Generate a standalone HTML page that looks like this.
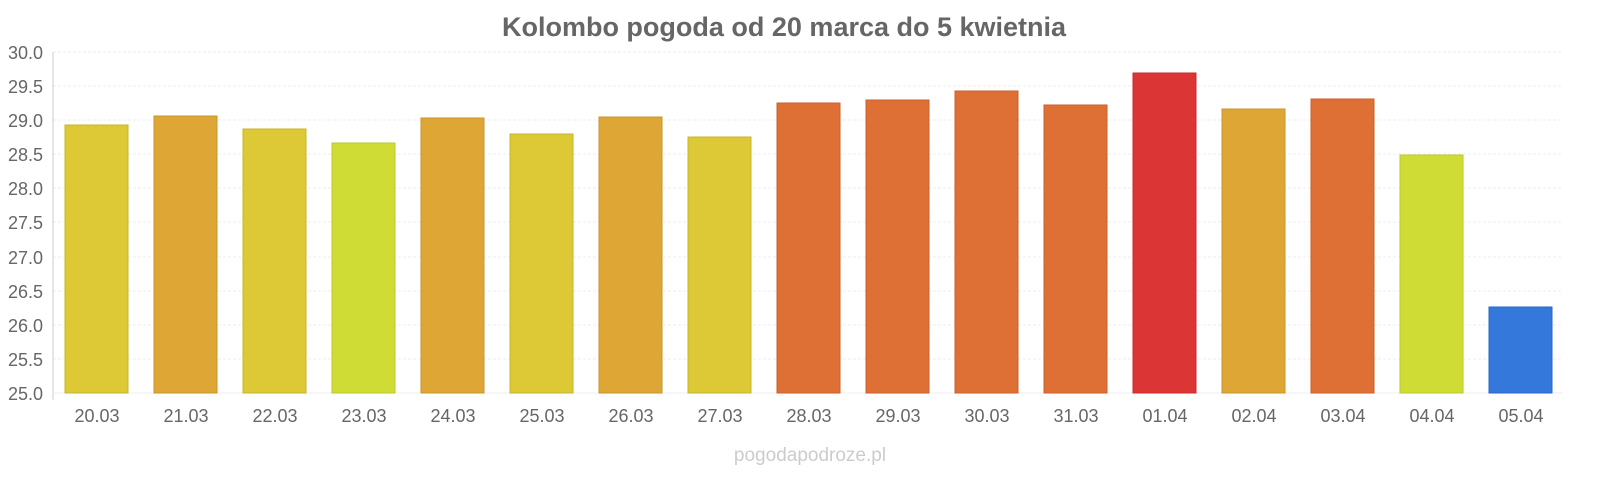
<!DOCTYPE html>
<html><head><meta charset="utf-8"><style>body{margin:0;background:#fff}</style></head><body>
<svg width="1600" height="480" xmlns="http://www.w3.org/2000/svg" font-family="Liberation Sans, sans-serif">
<rect width="1600" height="480" fill="#fff"/>
<text x="784" y="36" text-anchor="middle" font-size="27" font-weight="bold" fill="#666">Kolombo pogoda od 20 marca do 5 kwietnia</text>
<g stroke="#eee" stroke-dasharray="3,2">
<line x1="53" x2="1563" y1="52" y2="52"/><line x1="53" x2="1563" y1="86" y2="86"/><line x1="53" x2="1563" y1="120" y2="120"/><line x1="53" x2="1563" y1="154" y2="154"/><line x1="53" x2="1563" y1="188" y2="188"/><line x1="53" x2="1563" y1="222" y2="222"/><line x1="53" x2="1563" y1="257" y2="257"/><line x1="53" x2="1563" y1="291" y2="291"/><line x1="53" x2="1563" y1="325" y2="325"/><line x1="53" x2="1563" y1="359" y2="359"/>
</g>
<line x1="53" x2="53" y1="52" y2="400" stroke="#ccc"/>
<line x1="53" x2="1563" y1="393" y2="393" stroke="#eee"/>
<g font-size="18" fill="#666" text-anchor="end">
<text x="43" y="59">30.0</text><text x="43" y="93">29.5</text><text x="43" y="127">29.0</text><text x="43" y="161">28.5</text><text x="43" y="195">28.0</text><text x="43" y="229">27.5</text><text x="43" y="264">27.0</text><text x="43" y="298">26.5</text><text x="43" y="332">26.0</text><text x="43" y="366">25.5</text><text x="43" y="400">25.0</text>
</g>
<g stroke-width="1">
<rect x="65" y="125" width="63" height="268" fill="#dcc935" stroke="#c9b52a"/>
<rect x="154" y="116" width="63" height="277" fill="#dea635" stroke="#c9942a"/>
<rect x="243" y="129" width="63" height="264" fill="#dcc935" stroke="#c9b52a"/>
<rect x="332" y="143" width="63" height="250" fill="#cfdc35" stroke="#bcc92a"/>
<rect x="421" y="118" width="63" height="275" fill="#dea635" stroke="#c9942a"/>
<rect x="510" y="134" width="63" height="259" fill="#dcc935" stroke="#c9b52a"/>
<rect x="599" y="117" width="63" height="276" fill="#dea635" stroke="#c9942a"/>
<rect x="688" y="137" width="63" height="256" fill="#dcc935" stroke="#c9b52a"/>
<rect x="777" y="103" width="63" height="290" fill="#de7035" stroke="#c95f2a"/>
<rect x="866" y="100" width="63" height="293" fill="#de7035" stroke="#c95f2a"/>
<rect x="955" y="91" width="63" height="302" fill="#de7035" stroke="#c95f2a"/>
<rect x="1044" y="105" width="63" height="288" fill="#de7035" stroke="#c95f2a"/>
<rect x="1133" y="73" width="63" height="320" fill="#dc3535" stroke="#c92a2a"/>
<rect x="1222" y="109" width="63" height="284" fill="#dea635" stroke="#c9942a"/>
<rect x="1311" y="99" width="63" height="294" fill="#de7035" stroke="#c95f2a"/>
<rect x="1400" y="155" width="63" height="238" fill="#cfdc35" stroke="#bcc92a"/>
<rect x="1489" y="307" width="63" height="86" fill="#3578dc" stroke="#2a66c9"/>
</g>
<g font-size="18" fill="#666" text-anchor="middle">
<text x="97" y="422">20.03</text><text x="186" y="422">21.03</text><text x="275" y="422">22.03</text><text x="364" y="422">23.03</text><text x="453" y="422">24.03</text><text x="542" y="422">25.03</text><text x="631" y="422">26.03</text><text x="720" y="422">27.03</text><text x="809" y="422">28.03</text><text x="898" y="422">29.03</text><text x="987" y="422">30.03</text><text x="1076" y="422">31.03</text><text x="1165" y="422">01.04</text><text x="1254" y="422">02.04</text><text x="1343" y="422">03.04</text><text x="1432" y="422">04.04</text><text x="1521" y="422">05.04</text>
</g>
<text x="810" y="461" text-anchor="middle" font-size="19" fill="#ccc">pogodapodroze.pl</text>
</svg>
</body></html>
